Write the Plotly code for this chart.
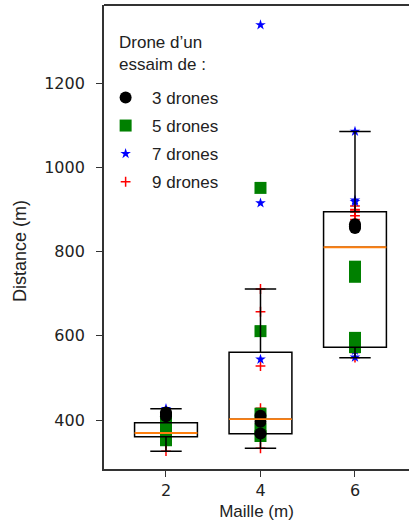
import numpy as np
import plotly.graph_objects as go

# ---- data ----
maille = [2, 4, 6]
y_ticks = [400, 600, 800, 1000, 1200]
names = ["3 drones", "5 drones", "7 drones", "9 drones"]
dist_3 = [[409, 414, 418], [368, 396, 410], [856, 860, 865]]
dist_5 = [[352, 364, 378, 392, 405], [362, 378, 415, 611, 951], [573, 595, 740, 750, 764]]
dist_7 = [[357, 361, 366, 368, 375, 388, 427], [360, 366, 390, 408, 544, 915, 1338],
          [549, 565, 571, 580, 918, 922, 1085]]
dist_9 = [[326, 345, 354, 359, 365, 367, 370, 383, 398], [333, 355, 364, 372, 385, 428, 528, 657, 711],
          [548, 560, 568, 876, 885, 894, 896, 900, 908]]

series = [dist_3, dist_5, dist_7, dist_9]
colors = ["#000000", "#008000", "#0000ff", "#ff0000"]
symbols = ["circle", "square", "star", "cross-thin"]
sizes = [12, 12, 8, 7]

fig = go.Figure()

# scatter points, drawn 9 -> 3 so that black sits on top
for k in [3, 2, 1, 0]:
    xs, ys = [], []
    for i, m in enumerate(maille):
        xs += [m] * len(series[k][i])
        ys += series[k][i]
    mk = dict(symbol=symbols[k], size=sizes[k], color=colors[k])
    if symbols[k] == "cross-thin":
        mk["line"] = dict(color=colors[k], width=1.5)
    else:
        mk["line"] = dict(width=0)
    fig.add_trace(go.Scatter(x=xs, y=ys, mode="markers", name=names[k], marker=mk,
                             legendgroup=names[k], legendrank=k + 1))

# box statistics (matplotlib style)
q1s, meds, q3s, los, his = [], [], [], [], []
for i in range(len(maille)):
    pool = np.array(dist_3[i] + dist_5[i] + dist_7[i] + dist_9[i], dtype=float)
    q1, med, q3 = np.percentile(pool, [25, 50, 75])
    iqr = q3 - q1
    lo = pool[pool >= q1 - 1.5 * iqr].min()
    hi = pool[pool <= q3 + 1.5 * iqr].max()
    q1s.append(q1); meds.append(med); q3s.append(q3); los.append(lo); his.append(hi)

box_w = 1.33
fig.add_trace(go.Box(x=maille, q1=q1s, median=meds, q3=q3s, lowerfence=los, upperfence=his,
                     width=box_w, whiskerwidth=0.5, boxpoints=False,
                     line=dict(color="black", width=1.5), fillcolor="rgba(0,0,0,0)",
                     xaxis="x2", yaxis="y2", showlegend=False, hoverinfo="skip"))
fig.add_trace(go.Box(x=maille, q1=meds, median=meds, q3=meds, lowerfence=meds, upperfence=meds,
                     width=box_w, whiskerwidth=0, boxpoints=False,
                     line=dict(color="#ff7f0e", width=1.9), fillcolor="rgba(0,0,0,0)",
                     xaxis="x2", yaxis="y2", showlegend=False, hoverinfo="skip"))

xr = [0.688, 7.143]
yr = [283.7, 1385.2]
axis_col = "#333333"
fig.update_layout(
    width=409, height=522,
    margin=dict(l=104, r=0, t=5, b=53),
    plot_bgcolor="white", paper_bgcolor="white",
    boxmode="overlay",
    xaxis=dict(range=xr, tickvals=maille, ticktext=[str(m) for m in maille],
               ticks="outside", ticklen=6, tickwidth=1.2, tickcolor=axis_col,
               showline=True, linecolor=axis_col, linewidth=1.8, mirror=False,
               showgrid=False, zeroline=False,
               tickfont=dict(family="DejaVu Sans", size=16, color="#222"),
               title=dict(text="Maille (m)", font=dict(family="Liberation Sans", size=17, color="#222"),
                          standoff=6)),
    yaxis=dict(range=yr, tickvals=y_ticks, ticks="outside", ticklen=6, tickwidth=1.2,
               tickcolor=axis_col, showline=True, linecolor=axis_col, linewidth=1.8,
               showgrid=False, zeroline=False, ticklabelstandoff=8,
               tickfont=dict(family="DejaVu Sans", size=16, color="#222")),
    xaxis2=dict(range=xr, overlaying="x", visible=False, showline=False),
    yaxis2=dict(range=yr, overlaying="y", visible=False, showline=False),
    legend=dict(x=-0.016, y=0.8386, xanchor="left", yanchor="top",
                font=dict(family="Liberation Sans", size=17, color="#222"),
                itemwidth=43,
                bgcolor="rgba(255,255,255,0)", traceorder="grouped", tracegroupgap=3),
    shapes=[dict(type="line", xref="paper", yref="paper", x0=0, x1=1, y0=1, y1=1,
                 line=dict(color=axis_col, width=1.8))],
    annotations=[
        dict(text="Drone d’un<br>essaim de :", xref="paper", yref="paper",
             x=(117 - 104) / 305, y=(469 - 31) / 464, xanchor="left", yanchor="top",
             align="left", showarrow=False,
             font=dict(family="Liberation Sans", size=17, color="#222")),
        dict(text="Distance (m)", xref="paper", yref="paper", textangle=-90,
             x=(20 - 104) / 305, y=(469 - 251) / 464, xanchor="center", yanchor="middle",
             showarrow=False, font=dict(family="Liberation Sans", size=18, color="#222")),
    ],
)

fig.write_html("out.html", config={"displayModeBar": False},
               post_script="document.documentElement.style.overflow='hidden';document.body.style.margin='0';document.body.style.overflow='hidden';")
